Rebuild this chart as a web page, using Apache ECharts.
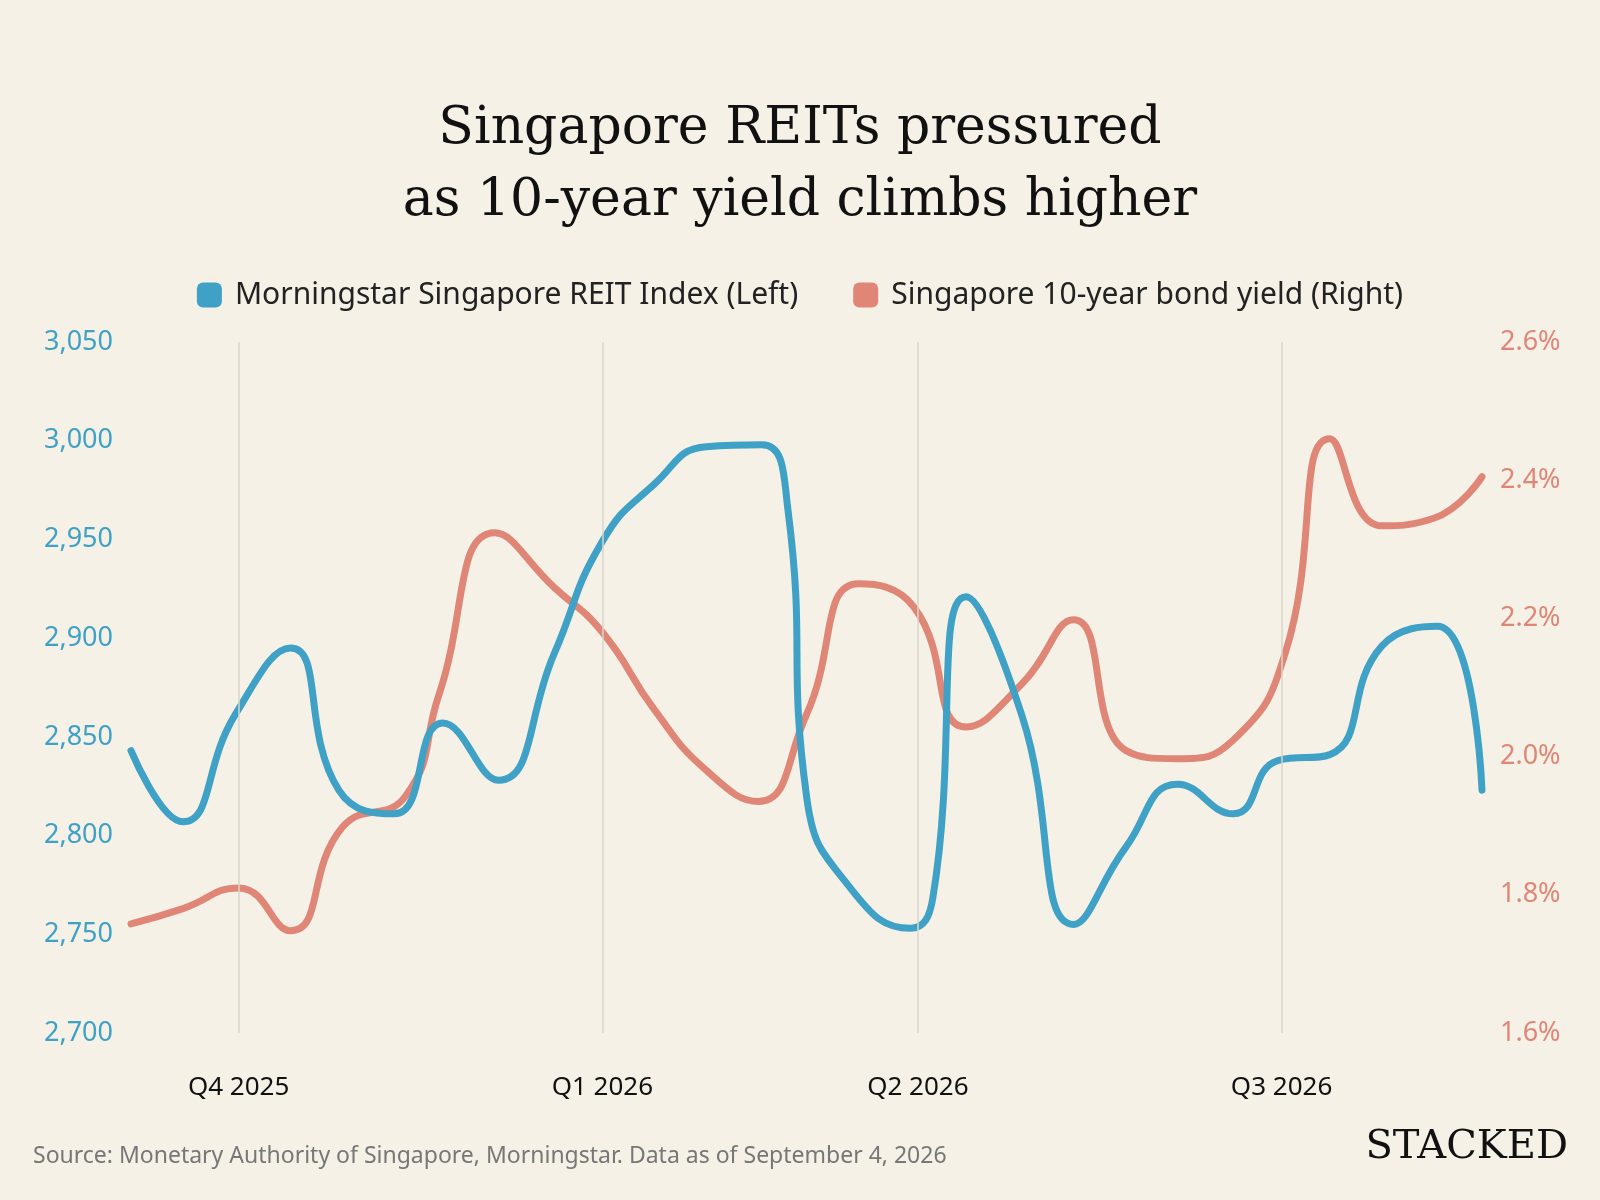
<!DOCTYPE html>
<html>
<head>
<meta charset="utf-8">
<script src="https://cdn.jsdelivr.net/npm/echarts@6/dist/echarts.min.js"></script>
<style>
html,body{margin:0;padding:0;background:#f5f1e6;}
#chart{width:1600px;height:1200px;}
</style>
</head>
<body>
<div id="chart"></div>
<script>
// x = days since start of period (early Sep 2025)
var quarterDays=[29,127,212,310];
var quarterLabels=["Q4 2025","Q1 2026","Q2 2026","Q3 2026"];
var reitDays=[0,14,28,43,56,71,84,99,114,127,141,155,170,177,182,194,210,216,225,240,254,268,282,297,309,323,337,352,364];
var reitValues=[2843,2807,2861,2895,2823,2811,2857,2828,2892,2949,2978,2997,2998,2965,2820,2773,2753,2768,2921,2861,2755,2794,2826,2811,2838,2841,2896,2906,2823];
var yieldDays=[0,14,29,43,57,74,83,98,114,127,141,155,169,182,196,211,225,240,254,268,282,297,311,323,337,351,364];
var yieldValues=[1.758,1.78,1.81,1.748,1.898,1.943,2.09,2.324,2.245,2.18,2.068,1.98,1.935,2.061,2.25,2.216,2.043,2.105,2.198,2.009,1.997,2.024,2.15,2.46,2.334,2.345,2.405];

function pairs(xs,ys){
	var r=[];
	for(var i=0;i<xs.length;i++){
		r[r.length]=[xs[i],ys[i]];
	}
	return r;
}
var blue="#3fa1c5";
var red="#e08677";
var chart=echarts.init(document.getElementById("chart"));
chart.setOption({
	backgroundColor:"#f5f1e6",
	animation:false,
	title:{
		text:"Singapore REITs pressured\nas 10-year yield climbs higher",
		left:"center",
		top:88,
		textStyle:{fontFamily:"DejaVu Serif",fontSize:52,fontWeight:"normal",color:"#111",lineHeight:72}
	},
	legend:{
		top:275,
		left:"center",
		itemWidth:25,
		itemHeight:25,
		itemGap:55,
		icon:"roundRect",
		textStyle:{fontFamily:"Noto Sans",fontSize:30,color:"#222",padding:[0,0,0,8]},
		data:["Morningstar Singapore REIT Index (Left)","Singapore 10-year bond yield (Right)"]
	},
	grid:{left:131,right:118,top:342,bottom:167},
	xAxis:{
		type:"value",
		min:0,
		max:364,
		axisLine:{show:false},
		axisTick:{show:false},
		splitLine:{show:false},
		axisLabel:{
			customValues:quarterDays,
			margin:42,
			fontFamily:"Noto Sans",
			fontSize:26,
			color:"#111",
			formatter:function(v){
				var i=quarterDays.indexOf(v);
				return i>=0?quarterLabels[i]:"";
			}
		}
	},
	yAxis:[{
		type:"value",
		min:2700,
		max:3050,
		interval:50,
		axisLine:{show:false},
		axisTick:{show:false},
		splitLine:{show:false},
		axisLabel:{margin:18,fontFamily:"Noto Sans",fontSize:27,color:blue,formatter:function(v){return echarts.format.addCommas(v);}}
	},{
		type:"value",
		min:1.6,
		max:2.6,
		interval:0.2,
		axisLine:{show:false},
		axisTick:{show:false},
		splitLine:{show:false},
		axisLabel:{margin:18,fontFamily:"Noto Sans",fontSize:27,color:red,formatter:function(v){return v.toFixed(1)+"%";}}
	}],
	series:[{
		name:"Morningstar Singapore REIT Index (Left)",
		type:"line",
		yAxisIndex:0,
		smooth:0.5,
		showSymbol:false,
		itemStyle:{color:blue},
		lineStyle:{width:7,color:blue,cap:"round"},
		data:pairs(reitDays,reitValues),
		z:3,
		markLine:{
			silent:true,
			symbol:"none",
			label:{show:false},
			lineStyle:{color:"#d8d4ca",width:1.5,type:"solid"},
			data:quarterDays.map(function(d){return {xAxis:d};})
		}
	},{
		name:"Singapore 10-year bond yield (Right)",
		type:"line",
		yAxisIndex:1,
		smooth:0.5,
		showSymbol:false,
		itemStyle:{color:red},
		lineStyle:{width:7,color:red,cap:"round"},
		data:pairs(yieldDays,yieldValues),
		z:2
	}],
	graphic:[{
		type:"text",
		left:33,
		top:1145,
		style:{text:"Source: Monetary Authority of Singapore, Morningstar. Data as of September 4, 2026",fontFamily:"Noto Sans",fontSize:23,fill:"#777"}
	},{
		type:"text",
		right:32,
		top:1128,
		style:{text:"STACKED",fontFamily:"DejaVu Serif",fontSize:40,fill:"#111",letterSpacing:5}
	}]
});
</script>
</body>
</html>
